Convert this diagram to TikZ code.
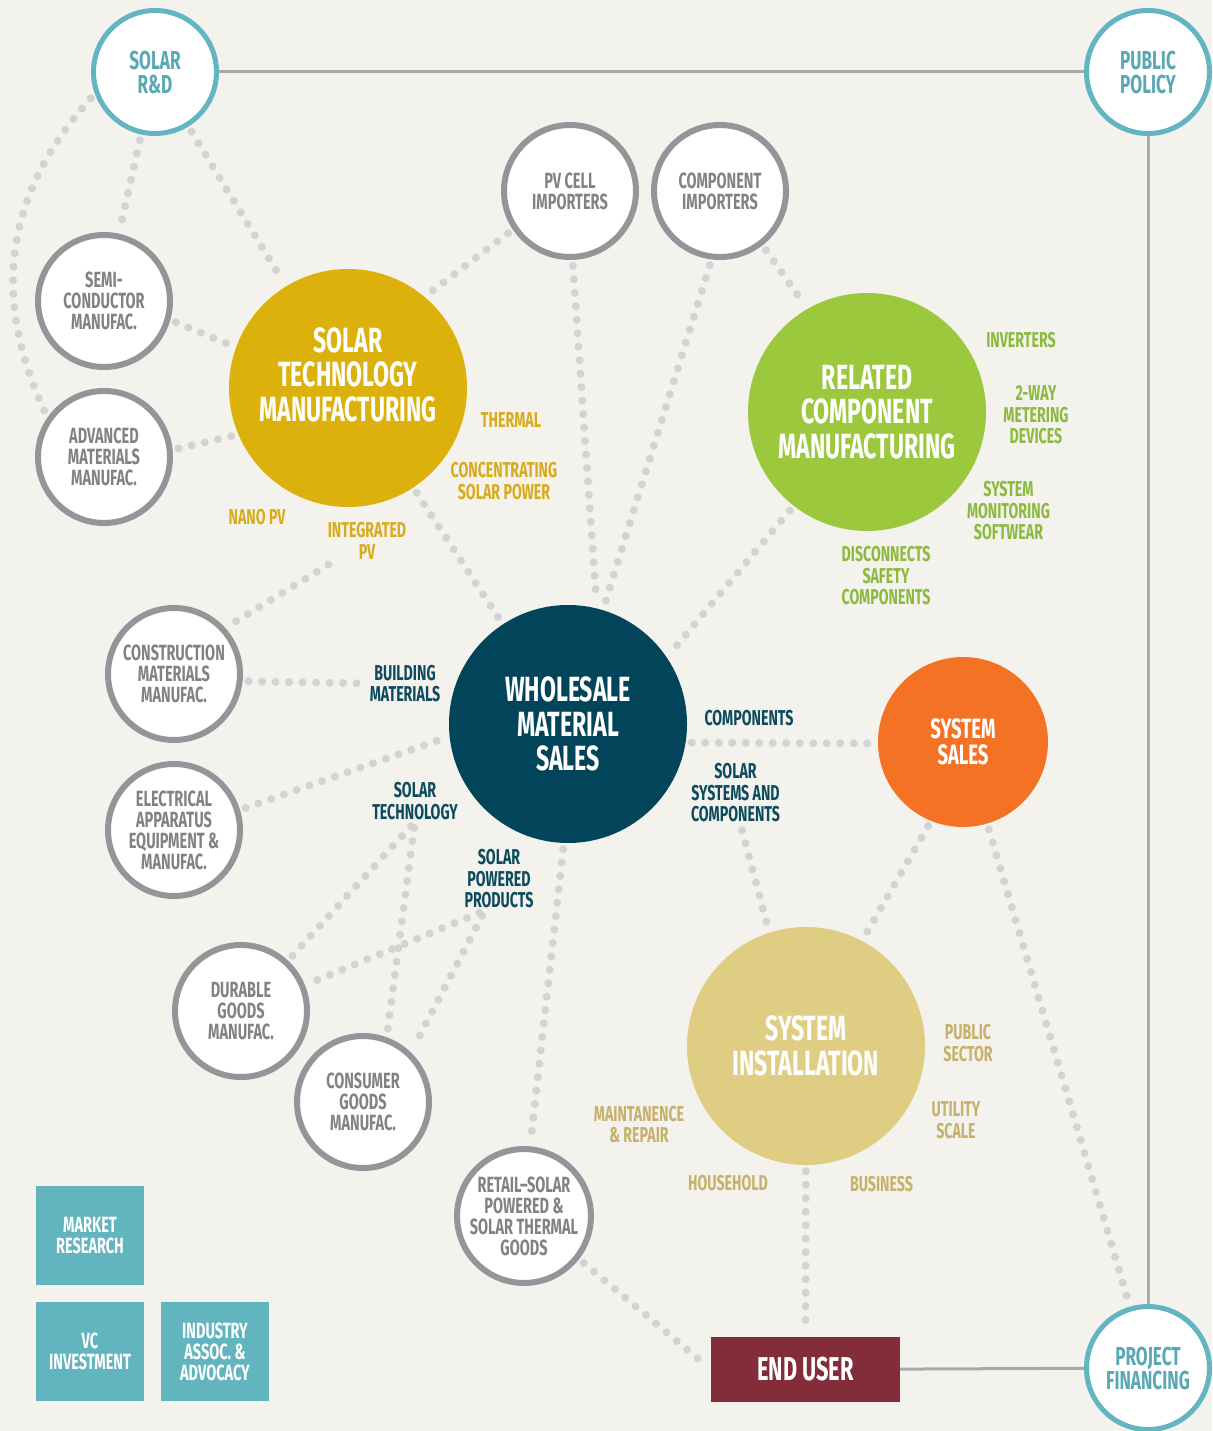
\documentclass[tikz,border=0pt]{standalone}
\usepackage{fontspec}
\setmainfont{Fira Sans}[FakeStretch=0.66]
\usepackage{tikz}
\usetikzlibrary{backgrounds}

\definecolor{paper}{HTML}{F3F2ED}
\definecolor{rdteal}{HTML}{62B5C1}
\definecolor{rdtext}{HTML}{5AA8B4}
\definecolor{ringgray}{HTML}{939598}
\definecolor{ringtext}{HTML}{808285}
\definecolor{dotgray}{HTML}{D1D3D4}
\definecolor{linegray}{HTML}{A7A9AC}
\definecolor{sunyellow}{HTML}{DDB10B}
\definecolor{sunlab}{HTML}{D8AB1C}
\definecolor{leafgreen}{HTML}{9BC83C}
\definecolor{leaflab}{HTML}{8CBA3F}
\definecolor{deepteal}{HTML}{02455A}
\definecolor{deeplab}{HTML}{0C4A5E}
\definecolor{flame}{HTML}{F37224}
\definecolor{sand}{HTML}{DFCD83}
\definecolor{sandlab}{HTML}{C7B06B}
\definecolor{wine}{HTML}{832D3B}
\definecolor{boxteal}{HTML}{62B4BF}

\newcommand\labfont{\bfseries\fontsize{21.5}{21.5}\selectfont}
\newcommand\ringfont{\bfseries\fontsize{22}{21}\selectfont}
\newcommand\rdfont{\bfseries\fontsize{26}{24}\selectfont}
\newcommand\hubfont{\bfseries\fontsize{35}{34.5}\selectfont}
\newcommand\salesfont{\bfseries\fontsize{28}{26}\selectfont}
\newcommand\eufont{\bfseries\fontsize{33}{33}\selectfont}

\begin{document}
\begin{tikzpicture}[x=1pt,y=1pt,
  ring/.style={circle,draw=ringgray,line width=6pt,fill=white,minimum size=132pt,
    inner sep=0pt,align=center,text=ringtext,font=\ringfont},
  tealring/.style={ring,draw=rdteal,line width=5pt,minimum size=123pt,text=rdtext,font=\rdfont},
  hub/.style={circle,minimum size=238pt,inner sep=0pt,align=center,text=white,font=\hubfont},
  lab/.style={align=center,inner sep=2pt,font=\labfont},
  tbox/.style={fill=boxteal,text=white,minimum width=108pt,minimum height=99pt,
    inner sep=0pt,align=center,font=\ringfont},
  dotline/.style={draw=dotgray,line width=8pt,line cap=round,dash pattern=on 0pt off 13.5pt,
    shorten <=6pt,shorten >=6pt},
  plainline/.style={draw=linegray,line width=3pt}]
  \useasboundingbox (0,0) rectangle (1212,-1431);

  % teal rings at the corners
  \node (rd) at (155,-72) [tealring] {SOLAR\\R\&D};
  \node (pp) at (1148,-72) [tealring] {PUBLIC\\POLICY};
  \node (pf) at (1148,-1368) [tealring] {PROJECT\\FINANCING};

  % suppliers and manufacturers
  \node (pvc) at (570,-191) [ring] {PV CELL\\IMPORTERS};
  \node (cimp) at (720,-191) [ring] {COMPONENT\\IMPORTERS};
  \node (semi) at (104,-301) [ring] {SEMI-\\CONDUCTOR\\MANUFAC.};
  \node (adv) at (104,-457) [ring] {ADVANCED\\MATERIALS\\MANUFAC.};
  \node (cmm) at (174,-674) [ring] {CONSTRUCTION\\MATERIALS\\MANUFAC.};
  \node (elec) at (174,-830) [ring] {ELECTRICAL\\APPARATUS\\EQUIPMENT \&\\MANUFAC.};
  \node (dgm) at (241,-1011) [ring] {DURABLE\\GOODS\\MANUFAC.};
  \node (cgm) at (363,-1102) [ring] {CONSUMER\\GOODS\\MANUFAC.};
  \node (retail) at (524,-1216) [ring] {RETAIL–SOLAR\\POWERED \&\\SOLAR THERMAL\\GOODS};

  % the big hubs
  \node (stm) at (348,-388) [hub,fill=sunyellow] {SOLAR\\TECHNOLOGY\\MANUFACTURING\\[-7pt]};
  \node (rcm) at (867,-412) [hub,fill=leafgreen] {RELATED\\COMPONENT\\MANUFACTURING};
  \node (wms) at (568,-724) [hub,fill=deepteal] {WHOLESALE\\MATERIAL\\SALES};
  \node (sinst) at (806,-1046) [hub,fill=sand] {SYSTEM\\INSTALLATION};
  \node (ssales) at (963,-742) [hub,fill=flame,minimum size=170pt,font=\salesfont] {SYSTEM\\SALES};
  \node (eu) at (805.5,-1369.5) [fill=wine,text=white,minimum width=189pt,minimum height=65pt,
    inner sep=0pt,font=\eufont] {END USER};

  % support boxes
  \node (mr) at (90,-1235.5) [tbox] {MARKET\\RESEARCH};
  \node (vc) at (90,-1351.5) [tbox] {VC\\INVESTMENT};
  \node (ia) at (215,-1351.5) [tbox] {INDUSTRY\\ASSOC. \&\\ADVOCACY};

  % labels round the hubs
  \node (therm) at (511,-420) [lab,text=sunlab] {THERMAL};
  \node (csp) at (504,-481) [lab,text=sunlab] {CONCENTRATING\\SOLAR POWER};
  \node (nano) at (257,-517) [lab,text=sunlab] {NANO PV};
  \node (intpv) at (367,-541) [lab,text=sunlab] {INTEGRATED\\PV};
  \node (inv) at (1021,-340) [lab,text=leaflab] {INVERTERS};
  \node (meter) at (1036,-415) [lab,text=leaflab] {2-WAY\\METERING\\DEVICES};
  \node (monit) at (1008.5,-511) [lab,text=leaflab] {SYSTEM\\MONITORING\\SOFTWEAR};
  \node (disc) at (886,-576) [lab,text=leaflab] {DISCONNECTS\\SAFETY\\COMPONENTS};
  \node (bldg) at (405,-683.5) [lab,text=deeplab] {BUILDING\\MATERIALS};
  \node (comp) at (749,-718) [lab,text=deeplab] {COMPONENTS};
  \node (ssc) at (735.5,-793) [lab,text=deeplab] {SOLAR\\SYSTEMS AND\\COMPONENTS};
  \node (soltech) at (415,-801) [lab,text=deeplab] {SOLAR\\TECHNOLOGY};
  \node (spp) at (499,-879) [lab,text=deeplab] {SOLAR\\POWERED\\PRODUCTS};
  \node (pubsec) at (968,-1043) [lab,text=sandlab] {PUBLIC\\SECTOR};
  \node (util) at (956,-1120) [lab,text=sandlab] {UTILITY\\SCALE};
  \node (maint) at (639,-1124.5) [lab,text=sandlab] {MAINTANENCE\\\& REPAIR};
  \node (house) at (728,-1183) [lab,text=sandlab] {HOUSEHOLD};
  \node (busi) at (881.5,-1184) [lab,text=sandlab] {BUSINESS};

  \begin{scope}[on background layer]
    \fill[paper] (0,0) rectangle (1212,-1431);
    % solid links
    \draw[plainline] (rd) -- (pp);
    \draw[plainline] (pp) -- (pf);
    \draw[plainline] (eu) -- (pf);
    % dotted links
    \draw[dotline] (rd.200) to[out=228,in=115,looseness=1.05] (adv.145);
    \draw[dotline] (rd) -- (semi);
    \draw[dotline] (rd) -- (stm);
    \draw[dotline] (semi.344) -- (stm.160);
    \draw[dotline] (adv.6) -- (stm.203);
    \draw[dotline] (pvc.214) -- (stm.50);
    \draw[dotline] (pvc.272) -- (wms.76);
    \draw[dotline] (cimp.263) -- (wms.73);
    \draw[dotline] (cimp.308) -- (rcm.120);
    \draw[dotline] (stm) -- (wms);
    \draw[dotline] (rcm.232) -- (wms.34);
    \draw[dotline] (intpv) -- (cmm.42);
    \draw[dotline] (cmm.354) -- (bldg.west);
    \draw[dotline] (elec.17) -- (wms.186);
    \draw[dotline] (wms.-9) -- (ssales.181);
    \draw[dotline] (soltech.south) -- (dgm.47);
    \draw[dotline] (soltech.south) -- (cgm.70);
    \draw[dotline] ([xshift=-14pt]spp.south) -- (dgm.22);
    \draw[dotline] ([xshift=-14pt]spp.south) -- (cgm.46);
    \draw[dotline] (wms.268) -- (retail.85);
    \draw[dotline] ([xshift=5pt]ssc.south) -- (sinst.108);
    \draw[dotline] (ssales.248) -- (sinst.62);
    \draw[dotline] (ssales) -- (pf);
    \draw[dotline] (sinst) -- (eu);
    \draw[dotline] (retail.322) -- (eu.west);
  \end{scope}
\end{tikzpicture}
\end{document}
